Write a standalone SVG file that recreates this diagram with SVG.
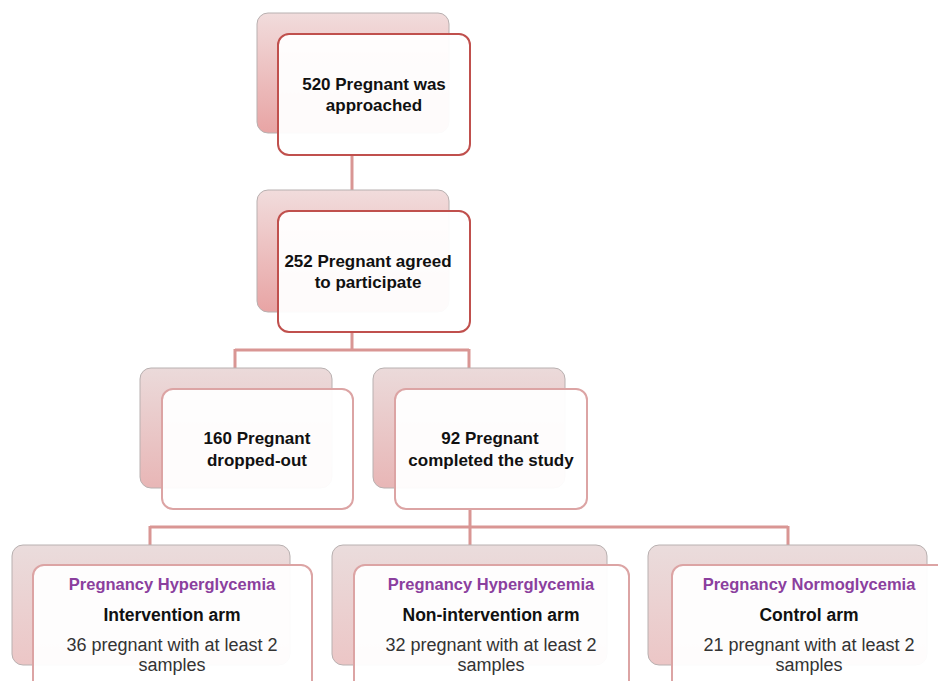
<svg xmlns="http://www.w3.org/2000/svg" width="938" height="681" viewBox="0 0 938 681">
<defs>
<linearGradient id="gTop" x1="0" y1="0" x2="0" y2="1">
<stop offset="0" stop-color="#f1dcdc"/><stop offset="1" stop-color="#e8a4a4"/>
</linearGradient>
<linearGradient id="gMid" x1="0" y1="0" x2="0" y2="1">
<stop offset="0" stop-color="#ebdada"/><stop offset="1" stop-color="#e8b6b6"/>
</linearGradient>
<linearGradient id="gLow" x1="0" y1="0" x2="0" y2="1">
<stop offset="0" stop-color="#eadcdc"/><stop offset="1" stop-color="#ecc6c6"/>
</linearGradient>
</defs>
<style>
.back{stroke:#b8b0b0;stroke-width:1}
.front{fill:#ffffff;fill-opacity:0.95;stroke-width:2}
.dark{stroke:#c0504d}
.light{stroke:#dca4a4}
.conn{fill:none;stroke:#d99694;stroke-width:3}
text{font-family:"Liberation Sans",Arial,sans-serif;text-anchor:middle}
.b{font-weight:bold;font-size:17px;fill:#111}
.p{font-weight:bold;font-size:16.5px;fill:#8b3f9e}
.s{font-weight:bold;font-size:17.5px;fill:#111}
.r{font-size:18px;fill:#333}
</style>
<rect width="938" height="681" fill="#ffffff"/>
<g id="connectors">
<path class="conn" d="M352,155 V192"/>
<path class="conn" d="M352,332 V350 M235,350 H469 M235,349 V370 M469,349 V370"/>
<path class="conn" d="M470,509 V527 M150,527 H788 M150,526 V547 M788,526 V547 M470,527 V547"/>
</g>
<g id="n1">
<rect class="back" x="257" y="13" width="192" height="120" rx="11" fill="url(#gTop)"/>
<rect class="front dark" x="278" y="34" width="192" height="121" rx="11"/>
<text class="b" x="374" y="90">520 Pregnant was</text>
<text class="b" x="374" y="111">approached</text>
</g>
<g id="n2">
<rect class="back" x="257" y="190" width="192" height="122" rx="11" fill="url(#gTop)"/>
<rect class="front dark" x="278" y="211" width="192" height="121" rx="11"/>
<text class="b" x="368" y="267">252 Pregnant agreed</text>
<text class="b" x="368" y="288">to participate</text>
</g>
<g id="n3">
<rect class="back" x="140" y="368" width="192" height="120" rx="11" fill="url(#gMid)"/>
<rect class="front light" x="162" y="389" width="191" height="120" rx="11"/>
<text class="b" x="257" y="444">160 Pregnant</text>
<text class="b" x="257" y="466">dropped-out</text>
</g>
<g id="n4">
<rect class="back" x="373" y="368" width="192" height="120" rx="11" fill="url(#gMid)"/>
<rect class="front light" x="395" y="389" width="192" height="120" rx="11"/>
<text class="b" x="490" y="444">92 Pregnant</text>
<text class="b" x="491" y="466">completed the study</text>
</g>
<g id="n5">
<rect class="back" x="12" y="545" width="278" height="120" rx="11" fill="url(#gLow)"/>
<rect class="front light" x="33" y="565" width="279" height="130" rx="11"/>
<text class="p" x="172" y="590">Pregnancy Hyperglycemia</text>
<text class="s" x="172" y="621">Intervention arm</text>
<text class="r" x="172" y="651">36 pregnant with at least 2</text>
<text class="r" x="172" y="671">samples</text>
</g>
<g id="n6">
<rect class="back" x="332" y="545" width="275" height="120" rx="11" fill="url(#gLow)"/>
<rect class="front light" x="354" y="565" width="275" height="130" rx="11"/>
<text class="p" x="491" y="590">Pregnancy Hyperglycemia</text>
<text class="s" x="491" y="621">Non-intervention arm</text>
<text class="r" x="491" y="651">32 pregnant with at least 2</text>
<text class="r" x="491" y="671">samples</text>
</g>
<g id="n7">
<rect class="back" x="648" y="545" width="279" height="120" rx="11" fill="url(#gLow)"/>
<rect class="front light" x="672" y="565" width="279" height="130" rx="11"/>
<text class="p" x="809" y="590">Pregnancy Normoglycemia</text>
<text class="s" x="809" y="621">Control arm</text>
<text class="r" x="809" y="651">21 pregnant with at least 2</text>
<text class="r" x="809" y="671">samples</text>
</g>
</svg>
